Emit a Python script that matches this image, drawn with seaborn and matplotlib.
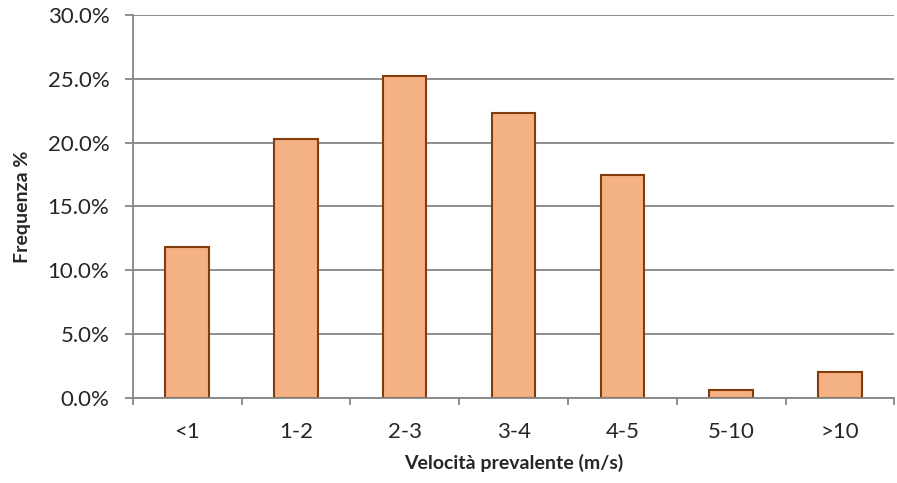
import numpy as np
import pandas as pd
import seaborn as sns
import matplotlib.pyplot as plt
from matplotlib.ticker import FixedLocator, PercentFormatter

# wind speed classes and frequency (%)
categories = ['<1', '1-2', '2-3', '3-4', '4-5', '5-10', '>10']
frequency = [11.8, 20.3, 25.2, 22.3, 17.5, 0.6, 2.0]

df = pd.DataFrame({'classe': categories, 'freq': frequency})

sns.set_style('white')
plt.rcParams['font.family'] = ['Lato', 'DejaVu Sans']

fig = plt.figure(figsize=(8.97, 4.83), dpi=100)
ax = fig.add_axes([0.148, 0.176, 0.849, 0.793])

sns.barplot(data=df, x='classe', y='freq', ax=ax, width=0.4,
            color='#F4B183', edgecolor='#843C0C', linewidth=1.5,
            saturation=1, zorder=3)

# axis limits and gridlines
ax.set_xlim(-0.5, len(categories) - 0.5)
ax.set_ylim(0, 30)
ax.set_yticks(np.arange(0, 31, 5))
ax.yaxis.set_major_formatter(PercentFormatter(decimals=1))
ax.grid(axis='y', color='#868686', linewidth=1.3, zorder=0)

# category separator ticks on the x axis
ax.xaxis.set_minor_locator(FixedLocator(np.arange(-0.5, len(categories), 1)))
ax.tick_params(axis='x', which='major', length=0, pad=17, labelsize=16)
ax.tick_params(axis='x', which='minor', length=5, width=1.3, color='#868686', direction='out', bottom=True)
ax.tick_params(axis='y', length=5.8, width=1.3, color='#868686', direction='out', left=True, labelsize=16, pad=11)

for side in ['top', 'right']:
    ax.spines[side].set_visible(False)
for side in ['left', 'bottom']:
    ax.spines[side].set_color('#868686')
    ax.spines[side].set_linewidth(1.3)
    ax.spines[side].set_zorder(4)

ax.set_xlabel('Velocità prevalente (m/s)', fontsize=14, fontweight='bold', labelpad=9)
ax.set_ylabel('Frequenza %', fontsize=14, fontweight='bold', labelpad=12)

fig.savefig('out.png', dpi=100)
